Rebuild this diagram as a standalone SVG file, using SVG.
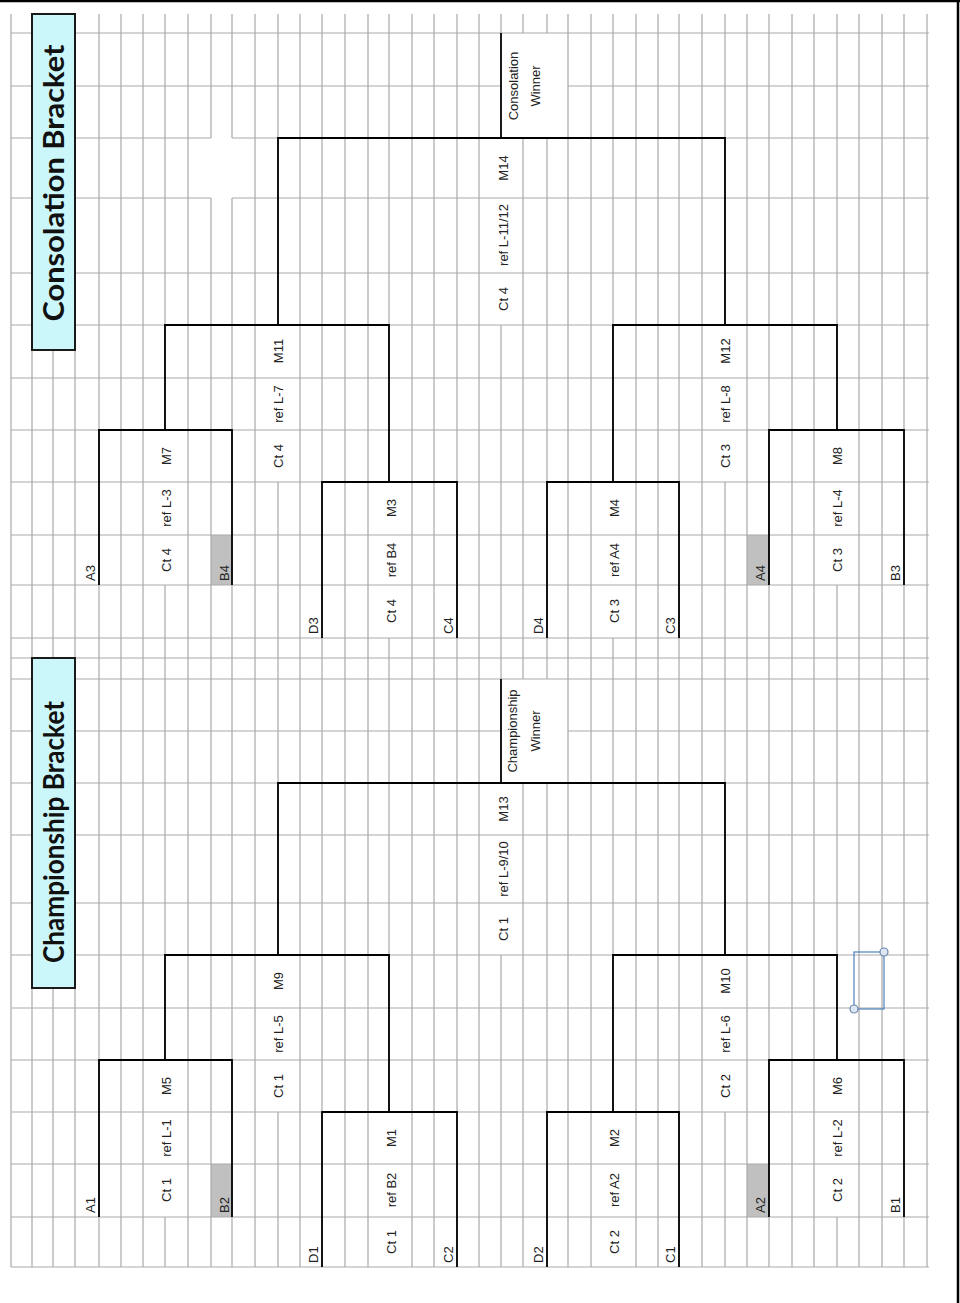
<svg xmlns="http://www.w3.org/2000/svg" width="960" height="1303" viewBox="0 0 960 1303">
<style>
.grid{fill:none;stroke:#a9a9a9;stroke-width:1.2}
.br{fill:none;stroke:#000;stroke-width:1.8}
.gray{fill:#c0c0c0}
.title{fill:#ccf7fa;stroke:#1a1a1a;stroke-width:2}
.t{font-family:"Liberation Sans",Arial,sans-serif;font-size:13px;fill:#222;text-anchor:middle}
.l{font-family:"Liberation Sans",Arial,sans-serif;font-size:13px;fill:#222;text-anchor:start}
.tt{font-family:Lato,"Liberation Sans",sans-serif;font-size:28px;font-weight:bold;fill:#111;text-anchor:middle}
.sel{fill:none;stroke:#4f81bd;stroke-width:1.2}
.hd{fill:#dde6f2;stroke:#6b86ad;stroke-width:1.2}
</style>
<rect width="960" height="1303" fill="#fff"/>
<g id="cells">
<rect class="gray" x="211" y="1164" width="21" height="53"/>
<rect class="gray" x="747" y="1164" width="22" height="53"/>
<rect class="gray" x="211" y="535" width="21" height="50"/>
<rect class="gray" x="747" y="535" width="22" height="50"/>
</g>
<g id="grid">
<path class="grid" d="M11 14V1267M32 14V1267M53 14V1267M75 14V1267M99 14V1267M121 14V1267M143 14V1267
M165 14V430M165 585V1060M165 1217V1267
M188 14V1267M211 14V138M211 198V1267M232 14V138M232 198V1267M255 14V1267
M278 14V325M278 482V955M278 1112V1267
M300 14V1267M322 14V1267M345 14V1267M368 14V1267
M389 14V482M389 638V1112
M412 14V1267M434 14V1267M457 14V1267M479 14V1267
M501 14V33M501 325V679M501 955V1267
M523 14V33M523 138V679M523 783V1267M547 14V33M547 138V679M547 783V1267
M568 14V1267M591 14V1267
M613 14V482M613 638V1112
M636 14V1267M658 14V1267M679 14V1267M702 14V1267
M725 14V325M725 482V955M725 1112V1267
M747 14V1267M769 14V1267M792 14V1267M814 14V1267
M837 14V430M837 585V1060M837 1217V1267
M859 14V1267M882 14V1267M904 14V1267M927 14V1267"/>
<path class="grid" d="M11 33H929M11 86H501M568 86H929M11 138H211M232 138H929M11 198H211M232 198H929M11 273H929M11 325H929M11 378H929M11 430H929M11 482H929M11 535H929M11 585H929M11 638H929M11 658H929M11 679H929M11 731H501M568 731H929M11 783H929M11 835H929M11 903H929M11 955H929M11 1008H929M11 1060H929M11 1112H929M11 1164H929M11 1217H929M11 1267H929"/>
</g>
<g id="frame">
<path d="M0 1H960M958 0V1303" stroke="#000" stroke-width="2.5" fill="none"/>
</g>
<g id="title-consolation">
<rect class="title" x="32" y="14" width="43" height="336"/>
<text class="tt" transform="translate(64,183) rotate(-90)" textLength="277" lengthAdjust="spacingAndGlyphs">Consolation Bracket</text>
</g>
<g id="title-championship">
<rect class="title" x="32" y="658" width="43" height="330"/>
<text class="tt" transform="translate(64,832) rotate(-90)" textLength="262" lengthAdjust="spacingAndGlyphs">Championship Bracket</text>
</g>
<g id="connectors">
<path class="br" d="M99 1217V1060H232V1217"/>
<path class="br" d="M322 1267V1112H457V1267"/>
<path class="br" d="M165 1060V955H389V1112"/>
<path class="br" d="M278 955V783H725V955"/>
<path class="br" d="M501 783V679"/>
<path class="br" d="M613 1112V955H837V1060"/>
<path class="br" d="M547 1267V1112H679V1267"/>
<path class="br" d="M769 1217V1060H904V1217"/>
<path class="br" d="M99 585V430H232V585"/>
<path class="br" d="M165 430V325H389V482"/>
<path class="br" d="M322 638V482H457V638"/>
<path class="br" d="M278 325V138H725V325"/>
<path class="br" d="M501 138V33"/>
<path class="br" d="M613 482V325H837V430"/>
<path class="br" d="M547 638V482H679V638"/>
<path class="br" d="M769 585V430H904V585"/>
</g>
<g id="teams-championship">
<text class="l" transform="translate(95,1213) rotate(-90)">A1</text>
<text class="l" transform="translate(229,1213) rotate(-90)">B2</text>
<text class="l" transform="translate(318,1263) rotate(-90)">D1</text>
<text class="l" transform="translate(453,1263) rotate(-90)">C2</text>
<text class="l" transform="translate(543,1263) rotate(-90)">D2</text>
<text class="l" transform="translate(675,1263) rotate(-90)">C1</text>
<text class="l" transform="translate(765,1213) rotate(-90)">A2</text>
<text class="l" transform="translate(900,1213) rotate(-90)">B1</text>
</g>
<g id="teams-consolation">
<text class="l" transform="translate(95,581) rotate(-90)">A3</text>
<text class="l" transform="translate(229,581) rotate(-90)">B4</text>
<text class="l" transform="translate(318,634) rotate(-90)">D3</text>
<text class="l" transform="translate(453,634) rotate(-90)">C4</text>
<text class="l" transform="translate(543,634) rotate(-90)">D4</text>
<text class="l" transform="translate(675,634) rotate(-90)">C3</text>
<text class="l" transform="translate(765,581) rotate(-90)">A4</text>
<text class="l" transform="translate(900,581) rotate(-90)">B3</text>
</g>
<g id="M5">
<text class="t" transform="translate(171,1086) rotate(-90)">M5</text>
<text class="t" transform="translate(171,1138) rotate(-90)">ref L-1</text>
<text class="t" transform="translate(171,1190) rotate(-90)">Ct 1</text>
</g>
<g id="M9">
<text class="t" transform="translate(283,981) rotate(-90)">M9</text>
<text class="t" transform="translate(283,1034) rotate(-90)">ref L-5</text>
<text class="t" transform="translate(283,1086) rotate(-90)">Ct 1</text>
</g>
<g id="M1">
<text class="t" transform="translate(396,1138) rotate(-90)">M1</text>
<text class="t" transform="translate(396,1190) rotate(-90)">ref B2</text>
<text class="t" transform="translate(396,1242) rotate(-90)">Ct 1</text>
</g>
<g id="M13">
<text class="t" transform="translate(508,809) rotate(-90)">M13</text>
<text class="t" transform="translate(508,869) rotate(-90)">ref L-9/10</text>
<text class="t" transform="translate(508,929) rotate(-90)">Ct 1</text>
</g>
<g id="championship-winner">
<text class="t" transform="translate(517,731) rotate(-90)">Championship</text>
<text class="t" transform="translate(540,731) rotate(-90)">Winner</text>
</g>
<g id="M2">
<text class="t" transform="translate(619,1138) rotate(-90)">M2</text>
<text class="t" transform="translate(619,1190) rotate(-90)">ref A2</text>
<text class="t" transform="translate(619,1242) rotate(-90)">Ct 2</text>
</g>
<g id="M10">
<text class="t" transform="translate(730,981) rotate(-90)">M10</text>
<text class="t" transform="translate(730,1034) rotate(-90)">ref L-6</text>
<text class="t" transform="translate(730,1086) rotate(-90)">Ct 2</text>
</g>
<g id="M6">
<text class="t" transform="translate(842,1086) rotate(-90)">M6</text>
<text class="t" transform="translate(842,1138) rotate(-90)">ref L-2</text>
<text class="t" transform="translate(842,1190) rotate(-90)">Ct 2</text>
</g>
<g id="M7">
<text class="t" transform="translate(171,456) rotate(-90)">M7</text>
<text class="t" transform="translate(171,508) rotate(-90)">ref L-3</text>
<text class="t" transform="translate(171,560) rotate(-90)">Ct 4</text>
</g>
<g id="M11">
<text class="t" transform="translate(283,351) rotate(-90)">M11</text>
<text class="t" transform="translate(283,404) rotate(-90)">ref L-7</text>
<text class="t" transform="translate(283,456) rotate(-90)">Ct 4</text>
</g>
<g id="M3">
<text class="t" transform="translate(396,508) rotate(-90)">M3</text>
<text class="t" transform="translate(396,560) rotate(-90)">ref B4</text>
<text class="t" transform="translate(396,611) rotate(-90)">Ct 4</text>
</g>
<g id="M14">
<text class="t" transform="translate(508,168) rotate(-90)">M14</text>
<text class="t" transform="translate(508,235) rotate(-90)">ref L-11/12</text>
<text class="t" transform="translate(508,299) rotate(-90)">Ct 4</text>
</g>
<g id="consolation-winner">
<text class="t" transform="translate(518,86) rotate(-90)">Consolation</text>
<text class="t" transform="translate(540,86) rotate(-90)">Winner</text>
</g>
<g id="M4">
<text class="t" transform="translate(619,508) rotate(-90)">M4</text>
<text class="t" transform="translate(619,560) rotate(-90)">ref A4</text>
<text class="t" transform="translate(619,611) rotate(-90)">Ct 3</text>
</g>
<g id="M12">
<text class="t" transform="translate(730,351) rotate(-90)">M12</text>
<text class="t" transform="translate(730,404) rotate(-90)">ref L-8</text>
<text class="t" transform="translate(730,456) rotate(-90)">Ct 3</text>
</g>
<g id="M8">
<text class="t" transform="translate(842,456) rotate(-90)">M8</text>
<text class="t" transform="translate(842,508) rotate(-90)">ref L-4</text>
<text class="t" transform="translate(842,560) rotate(-90)">Ct 3</text>
</g>
<g id="selection">
<rect class="sel" x="854" y="952" width="30" height="57"/>
<circle class="hd" cx="884" cy="952" r="4"/>
<circle class="hd" cx="854" cy="1009" r="4"/>
</g>
</svg>
